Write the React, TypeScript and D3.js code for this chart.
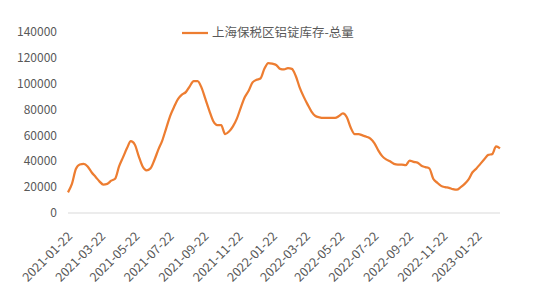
import React from "react";
import * as d3 from "d3";

const START_DATE = "2021-01-22";
const inventory: number[] = [
  16000, 22500, 34000, 37500, 38000, 36000, 31500, 28000, 24500, 22000,
  22500, 25000, 26500, 36000, 43000, 50000, 55500, 53000, 44000, 36000,
  33000, 34500, 41000, 49000, 56000, 65500, 75000, 82000, 88000, 91500,
  93500, 98000, 102000, 102000, 97000, 88000, 79000, 71000, 68000, 68000,
  61000, 63000, 67000, 73000, 81500, 89500, 94500, 101000, 103000, 104000,
  111500, 116000, 115500, 114500, 111500, 111000, 112000, 111500, 106000, 97000,
  90000, 84000, 78500, 75000, 74000, 73500, 73500, 73500, 73500, 75000,
  77000, 74000, 66000, 61000, 61000, 60000, 59000, 57500, 54000, 48500,
  44000, 41500, 40000, 38000, 37500, 37500, 37000, 40500, 39500, 39000,
  36500, 35500, 34500, 26500, 23500, 21000, 20000, 19500, 18500, 18000,
  20000, 22500, 26000, 31500, 34500, 38000, 41500, 45000, 45500, 51500,
  50000,
];
const yTicks: number[] = [0, 20000, 40000, 60000, 80000, 100000, 120000, 140000];
const xTickLabels: string[] = [
  "2021-01-22", "2021-03-22", "2021-05-22", "2021-07-22", "2021-09-22",
  "2021-11-22", "2022-01-22", "2022-03-22", "2022-05-22", "2022-07-22",
  "2022-09-22", "2022-11-22", "2023-01-22",
];
const seriesName = "上海保税区铝锭库存-总量";

const parse = d3.timeParse("%Y-%m-%d");

export default function App() {
  const W = 550, H = 300;
  const start = parse(START_DATE) as Date;
  const dates = inventory.map((_, i) => d3.timeDay.offset(start, i * 7));
  const x = d3.scaleTime().domain([dates[0], dates[dates.length - 1]]).range([68, 500]);
  const y = d3.scaleLinear().domain([0, 140000]).range([213, 32]);
  const line = d3
    .line<number>()
    .x((_, i) => x(dates[i]))
    .y((d) => y(d))
    .curve(d3.curveMonotoneX);
  const font = "'Noto Sans CJK SC', 'Noto Sans', sans-serif";
  const textColor = "#595959";
  return (
    <svg width={W} height={H} style={{ position: "absolute", left: 0, top: 0, background: "#fff" }} fontFamily={font}>
      <rect width={W} height={H} fill="#fff" />
      {yTicks.map((t) => (
        <text key={t} x={57} y={y(t)} dy="0.35em" textAnchor="end" fontSize={12} fill={textColor}>
          {t}
        </text>
      ))}
      <line x1={68} x2={500} y1={y(0)} y2={y(0)} stroke="#d9d9d9" strokeWidth={1} />
      {xTickLabels.map((l) => {
        const px = x(parse(l) as Date);
        return (
          <text
            key={l}
            transform={`translate(${px + 2},${234}) rotate(-45)`}
            textAnchor="end"
            dy="0.35em"
            fontSize={12.5}
            fill={textColor}
          >
            {l}
          </text>
        );
      })}
      <path d={line(inventory) || ""} fill="none" stroke="#ed7d31" strokeWidth={2.25} strokeLinejoin="round" />
      <line x1={182} x2={208} y1={33} y2={33} stroke="#ed7d31" strokeWidth={2.25} />
      <text x={212} y={33} dy="0.35em" fontSize={12.5} fill={textColor}>
        {seriesName}
      </text>
    </svg>
  );
}
